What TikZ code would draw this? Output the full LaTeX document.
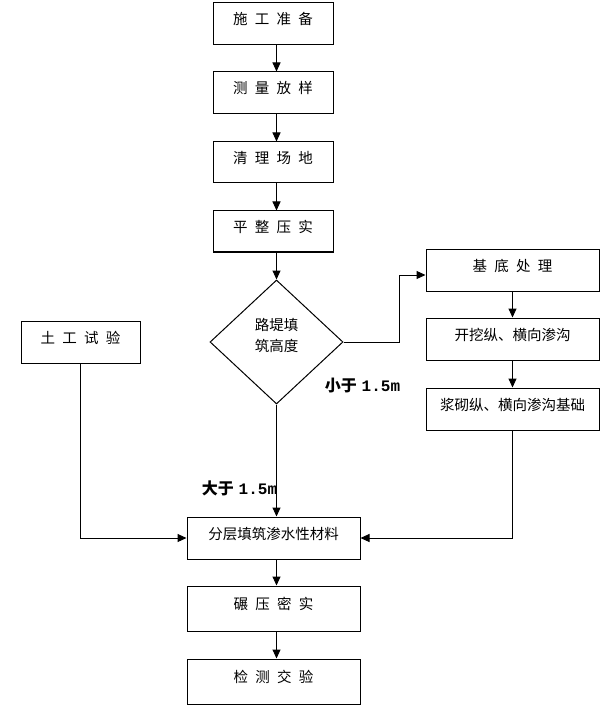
\documentclass[tikz,border=0pt]{standalone}
\usepackage{fontspec}
\newfontfamily\cjk{Noto Sans CJK SC}
\newfontfamily\monof{Liberation Mono}
\usetikzlibrary{arrows.meta,shapes.geometric}
\newcommand{\cgap}{\hspace{0.5em}}
\begin{document}
\begin{tikzpicture}[x=1pt,y=-1pt,
  box/.style={draw, line width=1pt, inner sep=0pt, font=\cjk\fontsize{14.5}{17}\selectfont, text height=7pt, text depth=5pt},
  arr/.style={line width=1pt, -{Triangle[length=9pt,width=8pt]}},
  ln/.style={line width=1pt},
  lbl/.style={font=\cjk\bfseries\fontsize{16}{19}\selectfont, inner sep=0pt}]
\useasboundingbox[fill=white] (0,0) rectangle (610,708);
% main column
\node[box,minimum width=120pt,minimum height=42pt] (n1) at (273,24) {施\cgap 工\cgap 准\cgap 备};
\node[box,minimum width=120pt,minimum height=42pt] (n2) at (273,93) {测\cgap 量\cgap 放\cgap 样};
\node[box,minimum width=120pt,minimum height=41pt] (n3) at (273,162.5) {清\cgap 理\cgap 场\cgap 地};
\node[box,minimum width=120pt,minimum height=41pt] (n4) at (273,231.5) {平\cgap 整\cgap 压\cgap 实};
\node[draw,diamond,line width=1pt,minimum width=133pt,minimum height=124pt,inner sep=0pt,aspect=1.07,
  label={[font=\cjk\fontsize{14.5}{21}\selectfont,align=center,yshift=6.5pt]center:{路堤填\\筑高度}}] (d) at (276.5,342) {};
% right column
\node[box,minimum width=173pt,minimum height=41pt] (b1) at (512.5,270.5) {基\cgap 底\cgap 处\cgap 理};
\node[box,minimum width=173pt,minimum height=42pt] (b2) at (512.5,339) {开挖纵、横向渗沟};
\node[box,minimum width=173pt,minimum height=42pt] (b3) at (512.5,409) {浆砌纵、横向渗沟基础};
% left
\node[box,minimum width=119pt,minimum height=42pt] (t) at (80.5,342) {土\cgap 工\cgap 试\cgap 验};
% bottom
\node[box,minimum width=173pt,minimum height=42pt] (f1) at (273.5,538) {分层填筑渗水性材料};
\node[box,minimum width=173pt,minimum height=45pt] (f2) at (273.5,608.5) {碾\cgap 压\cgap 密\cgap 实};
\node[box,minimum width=173pt,minimum height=45pt] (f3) at (273.5,681.5) {检\cgap 测\cgap 交\cgap 验};
% labels
\node[lbl] (lsmall) at (362.5,386) {小于\hspace{0.3em}{\monof\bfseries 1.5m}};
\node[lbl] (lbig) at (239.5,488) {大于\hspace{0.3em}{\monof\bfseries 1.5m}};
% connectors
\draw[arr] (n1.south -| d.north) -- (n2.north -| d.north);
\draw[arr] (n2.south -| d.north) -- (n3.north -| d.north);
\draw[arr] (n3.south -| d.north) -- (n4.north -| d.north);
\draw[arr] (n4.south -| d.north) -- (d.north);
\coordinate (c1) at (399,275);
\draw[arr] (d.east) -| (c1) -- (c1 -| b1.west);
\draw[arr] (b1.south) -- (b2.north);
\draw[arr] (b2.south) -- (b3.north);
\draw[arr] (b3.south) |- (f1.east);
\draw[arr] (t.south) |- (f1.west);
\draw[arr] (d.south) -- (d.south |- f1.north);
\draw[arr] (f1.south -| d.south) -- (f2.north -| d.south);
\draw[arr] (f2.south -| d.south) -- (f3.north -| d.south);
\end{tikzpicture}
\end{document}
